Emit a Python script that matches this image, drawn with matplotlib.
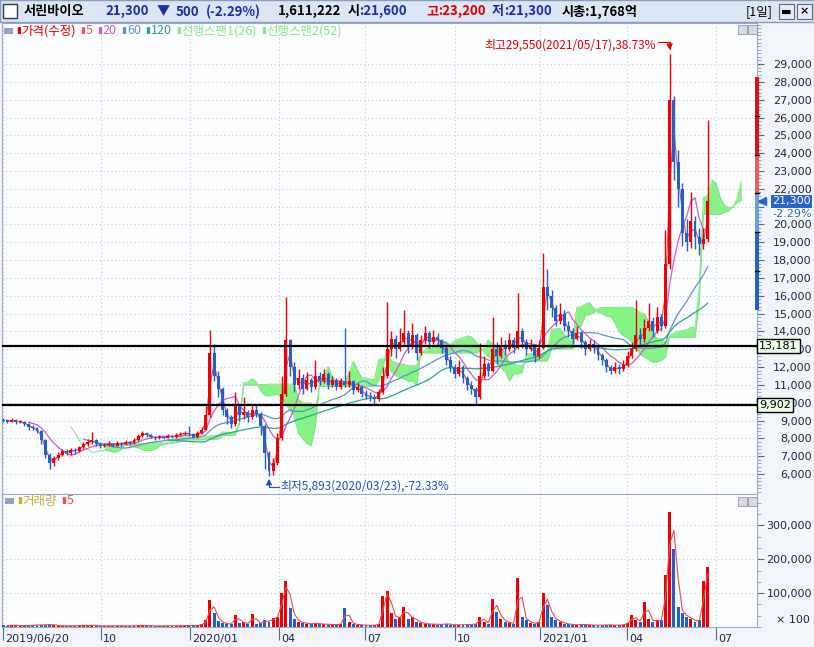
import numpy as np
import pandas as pd
import matplotlib
matplotlib.use("Agg")
import matplotlib.pyplot as plt
import matplotlib.transforms as mtrans
from matplotlib.patches import Rectangle
from matplotlib.ticker import FuncFormatter, MultipleLocator

plt.rcParams['font.family'] = ['DejaVu Sans']
KR = ['Noto Sans CJK KR', 'DejaVu Sans']

# 3-trading-day bars, 2019/06/20 .. 2021/06 (KRW)
first_open = 9050
close = [9000, 8950, 9050, 8900, 8950, 8800, 8650, 8600, 8400, 7900,
         7100, 6600, 6900, 7100, 7300, 7200, 7350, 7300, 7500, 7700,
         7800, 7900, 7700, 7600, 7650, 7700, 7600, 7750, 7700, 7800,
         7750, 7900, 8150, 8300, 8200, 8100, 8000, 8100, 8050, 8150,
         8100, 8200, 8250, 8300, 8250, 8100, 8300, 8500, 9300, 12800,
         11500, 10800, 9600, 9200, 8800, 9800, 9300, 9500, 9200, 9600,
         9400, 8700, 7200, 6200, 6600, 8000, 10500, 13500, 12000, 11000,
         11400, 10800, 11300, 10900, 11500, 11200, 11600, 11000, 11300, 10900,
         11200, 11000, 11200, 10700, 10900, 10500, 10400, 10300, 10200, 10600,
         11500, 13000, 13600, 13000, 13400, 13900, 13200, 13800, 12800, 13500,
         13900, 13400, 13700, 13500, 13100, 12400, 12000, 11600, 12000, 11400,
         11000, 10800, 10300, 11500, 12200, 11800, 13000, 12600, 13200, 13000,
         13500, 13100, 14000, 13400, 13000, 13200, 12600, 13100, 16500, 16000,
         15300, 14600, 15000, 14300, 14000, 13600, 13900, 13400, 13000, 13300,
         13100, 12700, 12400, 12000, 11800, 12000, 11900, 12100, 12600, 13000,
         13800, 13600, 14200, 14600, 14000, 14800, 14300, 17800, 27000, 23500,
         22000, 19500, 19000, 20200, 19300, 18900, 19200, 21300]
high = [9150, 9100, 9150, 9100, 9050, 9000, 8850, 8750, 8650, 8450,
        7950, 7200, 7000, 7250, 7400, 7400, 7450, 7450, 7600, 7800,
        7950, 8350, 7950, 7800, 7750, 7850, 7750, 7850, 7800, 7900,
        7850, 8000, 8250, 8400, 8350, 8250, 8150, 8200, 8150, 8250,
        8200, 8300, 8350, 8400, 8700, 8300, 8400, 8650, 9800, 14100,
        13300, 11800, 10900, 9700, 9300, 10600, 9900, 10300, 9600, 9800,
        9900, 9500, 8800, 7300, 6900, 8300, 11500, 15930, 13600, 12300,
        11900, 11600, 11700, 11400, 12400, 11700, 11900, 11700, 11500, 11400,
        11400, 14200, 11800, 11300, 11100, 11000, 10700, 10600, 10500, 10800,
        12000, 15650, 14000, 13800, 14200, 15200, 14100, 14500, 13900, 13800,
        14300, 14000, 14100, 13900, 13600, 13200, 12600, 12200, 12400, 12100,
        11500, 11200, 10900, 13350, 12600, 12300, 14800, 13400, 13700, 13500,
        13900, 13700, 16150, 14200, 13600, 13600, 13300, 13500, 18400, 17500,
        16300, 15500, 15600, 15200, 14600, 14200, 14300, 14000, 13500, 13600,
        13500, 13200, 12800, 12500, 12100, 12300, 12200, 12400, 12900, 13400,
        15770, 14200, 14700, 15600, 14800, 15400, 15000, 19700, 29550, 27200,
        24200, 22300, 20300, 21800, 20500, 19800, 19800, 25860]
low = [8900, 8850, 8900, 8800, 8850, 8700, 8500, 8450, 8300, 7700,
       6900, 6300, 6450, 6800, 7000, 7050, 7100, 7150, 7250, 7400,
       7600, 7700, 7550, 7450, 7500, 7550, 7500, 7550, 7600, 7650,
       7650, 7700, 7850, 8100, 8100, 8000, 7900, 7950, 7950, 8000,
       8000, 8050, 8150, 8200, 8150, 8000, 8050, 8250, 8450, 9200,
       11200, 10300, 9300, 8800, 8600, 8700, 9000, 9100, 8900, 9100,
       9200, 8200, 6300, 5893, 5950, 6500, 7900, 10400, 11500, 10600,
       10800, 10500, 10700, 10600, 10800, 11000, 11100, 10800, 10900, 10700,
       10800, 10900, 10900, 10500, 10600, 10300, 10200, 10100, 9950, 10100,
       10500, 11400, 12600, 12500, 12900, 13200, 12800, 13000, 12400, 12700,
       13300, 13100, 13300, 13200, 12800, 12100, 11700, 11400, 11500, 11100,
       10700, 10500, 9900, 10200, 11400, 11500, 11700, 12200, 12500, 12700,
       12900, 12800, 13000, 13100, 12700, 12900, 12300, 12500, 13000, 15200,
       14800, 14300, 14400, 14000, 13700, 13300, 13500, 13100, 12700, 12900,
       12800, 12400, 12100, 11700, 11600, 11650, 11600, 11800, 12000, 12500,
       12900, 13200, 13400, 14000, 13700, 13900, 14000, 14200, 17500, 22500,
       21000, 18800, 18500, 18700, 18600, 18300, 18600, 19000]
volume = [5000, 4000, 6000, 4500, 3500, 5000, 4000, 6500, 5000, 7000,
          6000, 8000, 5000, 4000, 3500, 4000, 3000, 3500, 4500, 5000,
          4000, 6000, 4000, 3500, 3000, 3500, 3000, 4000, 3500, 3000,
          3500, 4000, 5000, 4500, 4000, 3500, 3000, 3500, 3000, 4000,
          3500, 4000, 3500, 4500, 5000, 4000, 4500, 8000, 20000, 79000,
          40000, 18000, 12000, 8000, 10000, 35000, 12000, 14000, 8000, 38000,
          10000, 12000, 20000, 15000, 28000, 30000, 101000, 136000, 55000, 25000,
          15000, 12000, 10000, 9000, 12000, 8000, 9000, 7000, 8000, 6000,
          10000, 55000, 15000, 8000, 7000, 6000, 5000, 5000, 6000, 8000,
          91000, 106000, 40000, 25000, 30000, 58000, 25000, 30000, 15000, 12000,
          10000, 8000, 9000, 7000, 8000, 10000, 7000, 6000, 7000, 6000,
          8000, 7000, 10000, 29000, 15000, 10000, 83000, 45000, 25000, 15000,
          12000, 10000, 146000, 30000, 20000, 12000, 10000, 15000, 100000, 64000,
          30000, 20000, 15000, 10000, 8000, 7000, 6000, 8000, 7000, 6000,
          5000, 6000, 5000, 7000, 6000, 5000, 6000, 7000, 12000, 35000,
          20000, 15000, 73000, 25000, 15000, 20000, 20000, 153000, 339000, 231000,
          60000, 40000, 30000, 25000, 15000, 20000, 137000, 177000]

bar_days = 3
ma_days = [5, 20, 60, 120]
ma_colors = ['#e85a5a', '#cf5acf', '#5f92d2', '#2aa58c']
tick_labels = ['2019/06/20', '10', '2020/01', '04', '07', '10', '2021/01', '04', '07']
tick_pos = [0, 23.2, 44.3, 65.4, 85.8, 107.1, 127.3, 147.9, 169.0]
support = [13181, 9902]
last_price, last_pct = 21300, '-2.29%'
range_levels = [28270, 23900, 21770, 19520, 15200]
range_colors = ['#e01010', '#f05a5a', '#6b9be0', '#2462d0']
range_marks = [26100, 23900, 21770, 19580, 17400]

RED, BLUE, NAVY = '#f00000', '#1f5fd0', '#1c2848'
W, H = 814, 647
fig = plt.figure(figsize=(W / 100, H / 100), dpi=100, facecolor='#f1f5f9')


def box(l, t, r, b):
    return [l / W, 1 - b / H, (r - l) / W, (b - t) / H]


def axx(px):
    return (px - 2) / 755.0


ax = fig.add_axes(box(2, 23, 757, 494))
axv = fig.add_axes(box(2, 494, 757, 627), sharex=ax)

n = len(close)
idx = np.arange(n)
o = np.array([first_open] + close[:-1], float)
c = np.array(close, float)
h = np.array(high, float)
l = np.array(low, float)
col = np.where(c >= o, RED, BLUE)

# ichimoku leading spans
hs, ls = pd.Series(h), pd.Series(l)
conv = (hs.rolling(round(9 / bar_days)).max() + ls.rolling(round(9 / bar_days)).min()) / 2
base = (hs.rolling(round(26 / bar_days)).max() + ls.rolling(round(26 / bar_days)).min()) / 2
span1 = ((conv + base) / 2).values
span2 = ((hs.rolling(round(52 / bar_days)).max() + ls.rolling(round(52 / bar_days)).min()) / 2).values
sx = idx + round(25 / bar_days)
ok = ~np.isnan(span1) & ~np.isnan(span2)
ax.fill_between(sx, span1, span2, where=ok, color='#84f584', lw=0, zorder=1, interpolate=True)
ax.plot(sx, span1, color='#7fe57f', lw=0.7, zorder=1.1)
ax.plot(sx, span2, color='#7fe57f', lw=0.7, zorder=1.1)

s = pd.Series(c)
for d, mc in zip(ma_days, ma_colors):
    ax.plot(idx, s.rolling(round(d / bar_days)).mean(), color=mc, lw=0.9, zorder=2)

ax.vlines(idx, l, h, colors=col, lw=1.0, zorder=3)
ax.bar(idx, np.maximum(np.abs(c - o), 60), bottom=np.minimum(o, c), width=0.7,
       color=col, lw=0, zorder=3)

for lv in support:
    ax.axhline(lv, color='black', lw=1.6, zorder=4)

ax.set_facecolor('#fcfdfe')
ax.set_xlim(-0.3, 178.7)
ax.set_ylim(4886, 31300)
ax.set_xticks(tick_pos)
ax.tick_params(axis='x', length=0, labelbottom=False)
ax.yaxis.tick_right()
ax.set_yticks(range(6000, 30000, 1000))
ax.yaxis.set_minor_locator(MultipleLocator(200))
# the 21,000 label sits under the current-price tag
ax.yaxis.set_major_formatter(FuncFormatter(lambda v, p: '' if int(v) == 21000 else f'{int(v):,}'))
ax.tick_params(axis='y', which='major', length=5, color='#56688a', labelsize=8,
               labelcolor=NAVY, pad=34.5)
ax.tick_params(axis='y', which='minor', length=3, color='#8a9ab4')
for t in ax.get_yticklabels():
    t.set_horizontalalignment('right')
ax.grid(True, color='#c3cad4', ls=(0, (1, 2.5)), lw=0.8, zorder=0)
for sp in ax.spines.values():
    sp.set_color('#9aabc8')

# price annotations
pk = int(np.argmax(h))
lw_i = int(np.argmin(l))
ax.annotate(f'최고{int(h[pk]):,}(2021/05/17),38.73%', xy=(pk, h[pk]), xytext=(-10, 6.5),
            textcoords='offset points', ha='right', va='center', color='#e00000',
            fontsize=8.5, family=KR)
ax.annotate('', xy=(pk, h[pk]), xytext=(-8.5, 8.5), textcoords='offset points',
            arrowprops=dict(arrowstyle='-|>,head_length=0.35,head_width=0.18',
                            connectionstyle='angle,angleA=0,angleB=90,rad=0',
                            color='#e00000', lw=0.8, shrinkA=0, shrinkB=3))
ax.annotate(f'최저{int(l[lw_i]):,}(2020/03/23),-72.33%', xy=(lw_i, l[lw_i]), xytext=(8, -7.5),
            textcoords='offset points', ha='left', va='center', color='#2050c8',
            fontsize=8.5, family=KR)
ax.annotate('', xy=(lw_i, l[lw_i]), xytext=(7, -8), textcoords='offset points',
            arrowprops=dict(arrowstyle='-|>,head_length=0.35,head_width=0.18',
                            connectionstyle='angle,angleA=0,angleB=90,rad=0',
                            color='#2050c8', lw=0.8, shrinkA=0, shrinkB=2))

# right side price markers
bt = mtrans.blended_transform_factory(ax.transAxes, ax.transData)
for (top, bot), rc in zip(zip(range_levels[:-1], range_levels[1:]), range_colors):
    ax.add_patch(Rectangle((axx(755), bot), 4 / 755, top - bot, transform=bt,
                           color=rc, lw=0, clip_on=False, zorder=5))
for m in range_marks:
    ax.plot([axx(755), axx(759)], [m, m], transform=bt, color='black', lw=1,
            clip_on=False, zorder=6)
ax.plot([axx(762)], [last_price], marker='<', ms=6, color='#2a63c9', transform=bt,
        clip_on=False, zorder=6)
ax.text(axx(772), last_price, f'{last_price:,}', transform=bt, color='white', fontsize=8,
        va='center', ha='left', zorder=7,
        bbox=dict(boxstyle='square,pad=0.12', fc='#2a63c9', ec='none'))
ax.text(axx(772), last_price - 700, last_pct, transform=bt, color='#2a63c9', fontsize=8,
        va='center', ha='left', zorder=7,
        bbox=dict(boxstyle='square,pad=0.05', fc='white', ec='none'))
for lv in support:
    ax.text(axx(759), lv, f'{lv:,}', transform=bt, color='black', fontsize=8,
            va='center', ha='left', zorder=7,
            bbox=dict(boxstyle='square,pad=0.18', fc='#eaffea', ec='black', lw=1))


def legend(axis, x0, y0, items):
    fig.add_artist(Rectangle(((x0 - 12) / W, (H - y0 - 3) / H), 9 / W, 6 / H,
                             transform=fig.transFigure, fc='#8fa3c4', ec='none'))
    prev = None
    for txt, tc in items:
        if prev is None:
            m = fig.text(x0 / W, 1 - y0 / H, '▮', color=tc, fontsize=6.5, va='center')
        else:
            m = axis.annotate('▮', xy=(1, 0.5), xycoords=prev, xytext=(3, 0),
                              textcoords='offset points', color=tc, fontsize=6.5, va='center')
        prev = axis.annotate(txt, xy=(1, 0.5), xycoords=m, xytext=(0.5, 0),
                             textcoords='offset points', color=tc, fontsize=9,
                             family=KR, va='center')


legend(ax, 16, 31, [('가격(수정)', '#e00000'), ('5', ma_colors[0]), ('20', ma_colors[1]),
                    ('60', ma_colors[2]), ('120', ma_colors[3]),
                    ('선행스팬1(26)', '#86e886'), ('선행스팬2(52)', '#86e886')])

# volume panel
v = np.array(volume, float)
axv.bar(idx, v, width=0.7, color=col, lw=0, zorder=3)
axv.plot(idx, pd.Series(v).rolling(round(5 / bar_days)).mean(), color='#f04848', lw=0.8, zorder=4)
axv.set_facecolor('#fcfdfe')
axv.set_ylim(0, 393000)
axv.yaxis.tick_right()
axv.set_yticks([100000, 200000, 300000])
axv.yaxis.set_minor_locator(MultipleLocator(33333))
axv.yaxis.set_major_formatter(FuncFormatter(lambda v_, p: f'{int(v_):,}'))
axv.tick_params(axis='y', which='major', length=5, color='#56688a', labelsize=8,
                labelcolor=NAVY, pad=34.5)
axv.tick_params(axis='y', which='minor', length=3, color='#8a9ab4')
for t in axv.get_yticklabels():
    t.set_horizontalalignment('right')
axv.tick_params(axis='x', length=9, color='#56688a', labelbottom=False)
axv.grid(True, color='#c3cad4', ls=(0, (1, 2.5)), lw=0.8, zorder=0)
for sp in axv.spines.values():
    sp.set_color('#9aabc8')
axv.text(1.07, 0.05, '× 100', transform=axv.transAxes, fontsize=8, color=NAVY,
         ha='right', va='center')
legend(axv, 17, 501, [('거래량', '#c0b030'), ('5', '#f05050')])

xt = mtrans.offset_copy(mtrans.blended_transform_factory(axv.transData, axv.transAxes),
                        fig=fig, x=2, y=0, units='dots')
for tp, tl in zip(tick_pos, tick_labels):
    axv.text(tp, -0.09, tl, transform=xt, fontsize=8, color=NAVY, ha='left', va='center')

# small panel buttons
for yy in (25, 497):
    for xx in (738, 748):
        fig.add_artist(Rectangle((xx / W, 1 - (yy + 9) / H), 9 / W, 9 / H,
                                 transform=fig.transFigure, fc='#d4dbe6', ec='#8a98b0', lw=0.6))

# header bar
fig.add_artist(Rectangle((0, 1 - 22 / H), 1, 22 / H, transform=fig.transFigure,
                         fc='#dbe5f4', ec='#8a9cc0', lw=1))
fig.add_artist(Rectangle((3 / W, 1 - 18 / H), 14 / W, 14 / H, transform=fig.transFigure,
                         fc='white', ec='#303848', lw=1))
header = [(24, '서린바이오', 'black'), (105, '21,300', '#1a2fa8'), (157, '▼', '#1a2fa8'),
          (176, '500', '#1a2fa8'), (206, '(-2.29%)', '#1a2fa8'), (278, '1,611,222', 'black'),
          (348, '시', 'black'), (359, ':21,600', '#1a2fa8'), (426, '고', '#e00000'),
          (438, ':23,200', '#e00000'), (492, '저', '#1a2fa8'), (504, ':21,300', '#1a2fa8'),
          (562, '시총:1,768억', 'black')]
for xx, txt, tc in header:
    fig.text(xx / W, 1 - 11.5 / H, txt, color=tc, fontsize=9.5, fontweight='bold',
             family=KR, va='center', ha='left')
fig.text(746 / W, 1 - 11.5 / H, '[1일]', color='black', fontsize=9, family=KR,
         va='center', ha='left')
for xx, g in ((779, '▬'), (797, '×')):
    fig.add_artist(Rectangle((xx / W, 1 - 19 / H), 15 / W, 15 / H, transform=fig.transFigure,
                             fc='#e8ecf2', ec='#5c6c88', lw=0.8))
    fig.text((xx + 7.5) / W, 1 - 11.5 / H, g, color='black', fontsize=8, fontweight='bold',
             ha='center', va='center')

fig.savefig('out.png', dpi=100, facecolor=fig.get_facecolor())
